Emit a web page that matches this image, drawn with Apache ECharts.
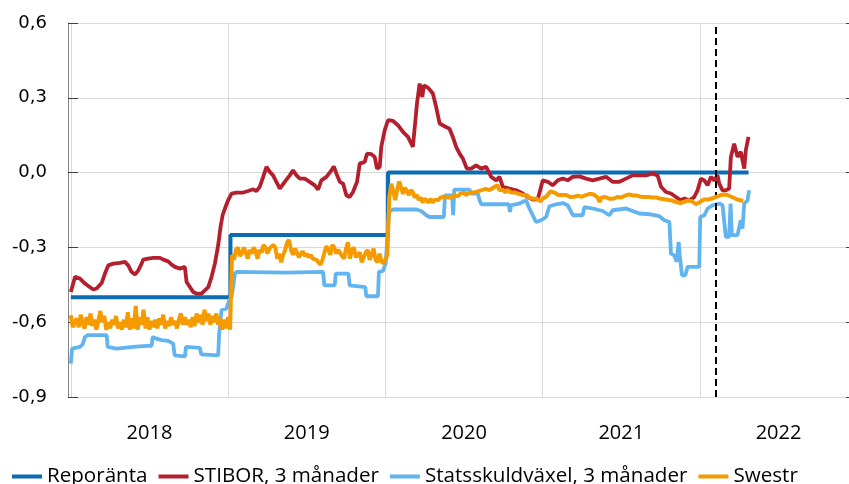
<!DOCTYPE html>
<html>
<head>
<meta charset="utf-8">
<script src="https://cdn.jsdelivr.net/npm/echarts@6/dist/echarts.min.js"></script>
<style>
  html, body { margin: 0; padding: 0; background: #fff; }
  #chart { width: 849px; height: 484px; }
</style>
</head>
<body>
<div id="chart"></div>
<script>
// x = decimal year
const years = [2018, 2019, 2020, 2021, 2022];
const yearMids = [2018.5, 2019.5, 2020.5, 2021.5, 2022.5];
const markerDate = 2022.102; // streckad linje

const repoDates = [2018.0, 2019.015, 2020.017, 2022.309];
const repoValues = [-0.5, -0.25, 0, 0];

const stiborDates = [
  2018.000, 2018.027, 2018.058, 2018.090, 2018.111, 2018.143, 2018.164, 2018.196, 2018.217, 2018.238,
  2018.270, 2018.312, 2018.344, 2018.365, 2018.386, 2018.408, 2018.429, 2018.450, 2018.461, 2018.492,
  2018.524, 2018.567, 2018.588, 2018.619, 2018.641, 2018.662, 2018.694, 2018.725, 2018.736, 2018.757,
  2018.778, 2018.799, 2018.831, 2018.852, 2018.874, 2018.895, 2018.916, 2018.937, 2018.952, 2018.965,
  2018.980, 2019.000, 2019.022, 2019.053, 2019.096, 2019.127, 2019.159, 2019.180, 2019.201, 2019.223,
  2019.244, 2019.265, 2019.286, 2019.307, 2019.329, 2019.360, 2019.392, 2019.413, 2019.435, 2019.456,
  2019.487, 2019.519, 2019.551, 2019.572, 2019.593, 2019.625, 2019.657, 2019.672, 2019.689, 2019.710,
  2019.731, 2019.752, 2019.773, 2019.794, 2019.820, 2019.837, 2019.869, 2019.883, 2019.911, 2019.932,
  2019.947, 2019.964, 2019.974, 2019.996, 2020.017, 2020.049, 2020.080, 2020.112, 2020.144, 2020.175,
  2020.186, 2020.201, 2020.218, 2020.235, 2020.245, 2020.271, 2020.302, 2020.323, 2020.345, 2020.376,
  2020.408, 2020.429, 2020.450, 2020.472, 2020.493, 2020.518, 2020.546, 2020.577, 2020.609, 2020.641,
  2020.673, 2020.705, 2020.726, 2020.747, 2020.789, 2020.832, 2020.874, 2020.905, 2020.937, 2020.969,
  2020.990, 2021.001, 2021.033, 2021.064, 2021.096, 2021.128, 2021.159, 2021.191, 2021.234, 2021.276,
  2021.318, 2021.361, 2021.403, 2021.445, 2021.488, 2021.530, 2021.572, 2021.615, 2021.657, 2021.699,
  2021.731, 2021.753, 2021.784, 2021.816, 2021.848, 2021.880, 2021.901, 2021.932, 2021.964, 2021.985,
  2022.007, 2022.028, 2022.049, 2022.070, 2022.091, 2022.112, 2022.123, 2022.144, 2022.165, 2022.186,
  2022.197, 2022.218, 2022.239, 2022.260, 2022.282, 2022.292, 2022.309
];
const stiborValues = [
  -0.479, -0.418, -0.425, -0.445, -0.455, -0.469, -0.465, -0.443, -0.405, -0.372,
  -0.365, -0.362, -0.358, -0.372, -0.398, -0.409, -0.392, -0.365, -0.349, -0.345,
  -0.342, -0.342, -0.349, -0.356, -0.369, -0.378, -0.385, -0.378, -0.439, -0.459,
  -0.479, -0.485, -0.485, -0.472, -0.459, -0.418, -0.365, -0.291, -0.218, -0.171,
  -0.144, -0.111, -0.084, -0.080, -0.080, -0.074, -0.067, -0.074, -0.057, -0.017,
  0.023, 0.003, -0.011, -0.037, -0.064, -0.037, -0.011, 0.009, -0.011, -0.024,
  -0.024, -0.037, -0.051, -0.068, -0.031, -0.017, 0.009, 0.025, -0.004, -0.037,
  -0.044, -0.091, -0.098, -0.078, -0.037, 0.036, 0.043, 0.076, 0.074, 0.063,
  0.016, 0.023, 0.103, 0.170, 0.210, 0.207, 0.190, 0.163, 0.143, 0.103,
  0.103, 0.277, 0.357, 0.303, 0.350, 0.341, 0.317, 0.263, 0.197, 0.186,
  0.176, 0.143, 0.103, 0.076, 0.056, 0.016, 0.016, 0.029, 0.016, 0.023,
  -0.017, -0.031, -0.017, -0.057, -0.064, -0.071, -0.084, -0.098, -0.108, -0.107,
  -0.057, -0.031, -0.037, -0.051, -0.031, -0.024, -0.031, -0.017, -0.015, -0.024,
  -0.031, -0.024, -0.017, -0.037, -0.037, -0.024, -0.011, -0.011, -0.011, -0.004,
  -0.011, -0.057, -0.078, -0.084, -0.098, -0.111, -0.104, -0.111, -0.098, -0.071,
  -0.024, -0.031, -0.051, -0.017, -0.031, -0.011, -0.044, -0.071, -0.071, -0.064,
  0.063, 0.116, 0.063, 0.083, 0.016, 0.090, 0.143
];

const ssvxDates = [
  2018.000, 2018.008, 2018.058, 2018.075, 2018.090, 2018.105, 2018.228, 2018.234, 2018.291, 2018.397,
  2018.482, 2018.514, 2018.520, 2018.545, 2018.577, 2018.619, 2018.651, 2018.660, 2018.726, 2018.732,
  2018.821, 2018.829, 2018.937, 2018.943, 2018.958, 2018.990, 2019.007, 2019.021, 2019.032, 2019.043,
  2019.057, 2019.371, 2019.604, 2019.612, 2019.678, 2019.684, 2019.765, 2019.773, 2019.872, 2019.879,
  2019.953, 2019.959, 2019.985, 2020.002, 2020.023, 2020.049, 2020.197, 2020.228, 2020.260, 2020.281,
  2020.372, 2020.379, 2020.425, 2020.431, 2020.438, 2020.535, 2020.546, 2020.588, 2020.599, 2020.610,
  2020.785, 2020.792, 2020.800, 2020.853, 2020.895, 2020.916, 2020.937, 2020.958, 2020.990, 2021.022,
  2021.043, 2021.086, 2021.128, 2021.159, 2021.170, 2021.192, 2021.255, 2021.265, 2021.318, 2021.382,
  2021.424, 2021.445, 2021.530, 2021.572, 2021.615, 2021.678, 2021.742, 2021.774, 2021.806, 2021.816,
  2021.837, 2021.852, 2021.865, 2021.873, 2021.886, 2021.907, 2021.922, 2021.996, 2022.002, 2022.028,
  2022.049, 2022.081, 2022.123, 2022.144, 2022.155, 2022.165, 2022.186, 2022.195, 2022.203, 2022.239,
  2022.260, 2022.271, 2022.282, 2022.303, 2022.313
];
const ssvxValues = [
  -0.766, -0.706, -0.699, -0.689, -0.659, -0.652, -0.652, -0.699, -0.706, -0.699,
  -0.695, -0.695, -0.659, -0.666, -0.672, -0.675, -0.686, -0.733, -0.737, -0.699,
  -0.703, -0.729, -0.733, -0.646, -0.552, -0.545, -0.512, -0.499, -0.459, -0.405,
  -0.398, -0.401, -0.398, -0.452, -0.452, -0.405, -0.405, -0.452, -0.459, -0.496,
  -0.496, -0.398, -0.394, -0.365, -0.158, -0.148, -0.148, -0.154, -0.171, -0.178,
  -0.178, -0.091, -0.091, -0.171, -0.068, -0.068, -0.084, -0.084, -0.111, -0.127,
  -0.127, -0.158, -0.130, -0.124, -0.111, -0.144, -0.171, -0.198, -0.191, -0.178,
  -0.135, -0.127, -0.122, -0.131, -0.144, -0.171, -0.171, -0.138, -0.144, -0.154,
  -0.171, -0.151, -0.144, -0.154, -0.164, -0.167, -0.175, -0.191, -0.198, -0.325,
  -0.332, -0.358, -0.278, -0.338, -0.412, -0.412, -0.378, -0.378, -0.178, -0.171,
  -0.144, -0.131, -0.124, -0.131, -0.198, -0.258, -0.258, -0.124, -0.251, -0.251,
  -0.191, -0.225, -0.124, -0.111, -0.071
];

// Swestr, jämnt samplad från start
const swestrStart = 2018.0;
const swestrStep = 0.0125;
const swestrValues = [
  -0.572, -0.62, -0.60, -0.585, -0.62, -0.57, -0.605, -0.625, -0.58, -0.61,
  -0.565, -0.615, -0.59, -0.63, -0.595, -0.555, -0.60, -0.575, -0.63, -0.60,
  -0.625, -0.59, -0.61, -0.575, -0.625, -0.60, -0.63, -0.59, -0.62, -0.56,
  -0.63, -0.585, -0.625, -0.535, -0.63, -0.58, -0.61, -0.55, -0.625, -0.58,
  -0.63, -0.595, -0.62, -0.59, -0.625, -0.585, -0.61, -0.57, -0.625, -0.595,
  -0.615, -0.58, -0.61, -0.595, -0.625, -0.59, -0.565, -0.61, -0.58, -0.61,
  -0.59, -0.62, -0.58, -0.615, -0.565, -0.60, -0.57, -0.61, -0.55, -0.595,
  -0.565, -0.61, -0.575, -0.60, -0.565, -0.61, -0.585, -0.63, -0.59, -0.625,
  -0.58, -0.63,
  -0.33, -0.35, -0.31, -0.30, -0.335, -0.325, -0.30, -0.32, -0.345, -0.31,
  -0.325, -0.30, -0.315, -0.345, -0.31, -0.32, -0.29, -0.30, -0.325, -0.305,
  -0.31, -0.29, -0.30, -0.345, -0.325, -0.36, -0.33, -0.31, -0.28, -0.27,
  -0.31, -0.33, -0.305, -0.32, -0.34, -0.325, -0.315, -0.335, -0.325, -0.34,
  -0.33, -0.345, -0.34, -0.35, -0.36, -0.37, -0.35, -0.32, -0.295, -0.31,
  -0.33, -0.29, -0.30, -0.325, -0.31, -0.305, -0.335, -0.345, -0.305, -0.28,
  -0.345, -0.31, -0.30, -0.34, -0.33, -0.32, -0.36, -0.365, -0.32, -0.31,
  -0.35, -0.345, -0.305, -0.35, -0.36, -0.325, -0.355, -0.365, -0.35, -0.33,
  -0.10, -0.045, -0.075, -0.11, -0.07, -0.035, -0.06, -0.085, -0.06, -0.075,
  -0.09, -0.07, -0.08, -0.10, -0.09, -0.11, -0.10, -0.12, -0.105, -0.11,
  -0.12, -0.105, -0.12, -0.11, -0.105, -0.11, -0.10, -0.105, -0.095, -0.09,
  -0.10, -0.095, -0.10, -0.09, -0.085, -0.095, -0.085, -0.09, -0.08, -0.09,
  -0.085, -0.08, -0.085, -0.08, -0.085, -0.075, -0.08, -0.07, -0.075, -0.065,
  -0.07, -0.07, -0.065, -0.06, -0.065, -0.05, -0.07, -0.065, -0.07, -0.08,
  -0.07, -0.075, -0.08, -0.075, -0.08, -0.08, -0.085, -0.09, -0.09, -0.085,
  -0.09, -0.10, -0.10, -0.105, -0.11, -0.105, -0.11, -0.115, -0.105, -0.10,
  -0.095, -0.085, -0.075, -0.07, -0.08, -0.085, -0.09, -0.085, -0.09, -0.085,
  -0.09, -0.088, -0.098, -0.10, -0.097, -0.095, -0.092, -0.09, -0.097, -0.092,
  -0.09, -0.087, -0.085, -0.084, -0.088, -0.09, -0.10, -0.118, -0.10, -0.098,
  -0.098, -0.10, -0.105, -0.103, -0.105, -0.10, -0.098, -0.097, -0.10, -0.097,
  -0.092, -0.09, -0.087, -0.09, -0.092, -0.09, -0.092, -0.095, -0.097, -0.096,
  -0.098, -0.10, -0.098, -0.10, -0.10, -0.102, -0.10, -0.103, -0.105, -0.104,
  -0.107, -0.108, -0.11, -0.11, -0.112, -0.115, -0.118, -0.12, -0.122, -0.12,
  -0.117, -0.115, -0.112, -0.11, -0.115, -0.118, -0.127, -0.122, -0.118, -0.112,
  -0.108, -0.106, -0.108, -0.106, -0.104, -0.10, -0.098, -0.095, -0.092, -0.09,
  -0.088, -0.087, -0.09, -0.095, -0.097, -0.10, -0.104, -0.108, -0.11, -0.112,
  -0.114
];

const names = ['Reporänta', 'STIBOR, 3 månader', 'Statsskuldväxel, 3 månader', 'Swestr'];
const colors = ['#0b6cb5', '#b41f2d', '#62b4f0', '#f59b00'];

const pairs = (xs, ys) => xs.map((x, i) => [x, ys[i]]);
const fmtNum = v => v.toFixed(1).replace('.', ',').replace(/^-0,0$/, '0,0');

const chart = echarts.init(document.getElementById('chart'));

const lineSeries = (name, data, color, width, extra) => ({
  name: name,
  type: 'line',
  data: data,
  showSymbol: false,
  symbol: 'none',
  color: color,
  lineStyle: { color: color, width: width },
  ...extra
});

const option = {
  animation: false,
  color: colors,
  grid: { left: 68, right: 3, top: 23, bottom: 87 },
  legend: {
    data: names,
    left: 12,
    top: 466,
    padding: 0,
    icon: 'rect',
    itemWidth: 30,
    itemHeight: 4,
    itemGap: 11,
    textStyle: { fontFamily: 'Open Sans', fontSize: 20.6, color: '#000' }
  },
  xAxis: {
    type: 'value',
    min: 2017.982,
    max: 2022.929,
    axisLine: { show: true, lineStyle: { color: '#d9d9d9', width: 1 } },
    axisTick: { show: false, customValues: years },
    splitLine: { show: true, lineStyle: { color: '#d9d9d9', width: 1 } },
    axisLabel: {
      customValues: yearMids,
      formatter: v => String(Math.floor(v)),
      margin: 26,
      fontFamily: 'Open Sans',
      fontSize: 20,
      color: '#000'
    }
  },
  yAxis: [
    {
      type: 'value',
      min: -0.9,
      max: 0.6,
      interval: 0.3,
      axisLine: { show: true, lineStyle: { color: '#868686', width: 1 } },
      axisTick: { show: true, inside: true, length: 10, lineStyle: { color: '#404040' } },
      splitLine: { show: true, lineStyle: { color: '#d9d9d9', width: 1 } },
      axisLabel: {
        formatter: fmtNum,
        margin: 21,
        fontFamily: 'DejaVu Sans',
        fontSize: 18,
        color: '#000'
      }
    },
    {
      type: 'value',
      position: 'right',
      min: -0.9,
      max: 0.6,
      interval: 0.3,
      axisLine: { show: false },
      axisTick: { show: true, inside: false, length: 5, lineStyle: { color: '#404040' } },
      splitLine: { show: false },
      axisLabel: { show: false }
    }
  ],
  series: [
    lineSeries(names[0], pairs(repoDates, repoValues), colors[0], 4, { step: 'end', z: 2 }),
    lineSeries(names[1], pairs(stiborDates, stiborValues), colors[1], 3.8, { z: 3 }),
    lineSeries(names[2], pairs(ssvxDates, ssvxValues), colors[2], 3.8, { z: 4 }),
    lineSeries(names[3], swestrValues.map((v, i) => [swestrStart + i * swestrStep, v]), colors[3], 4, {
      z: 5,
      markLine: {
        silent: true,
        symbol: ['none', 'none'],
        label: { show: false },
        lineStyle: { color: '#000', type: [7, 4], width: 2 },
        data: [{ xAxis: markerDate }]
      }
    })
  ]
};

chart.setOption(option);
</script>
</body>
</html>
